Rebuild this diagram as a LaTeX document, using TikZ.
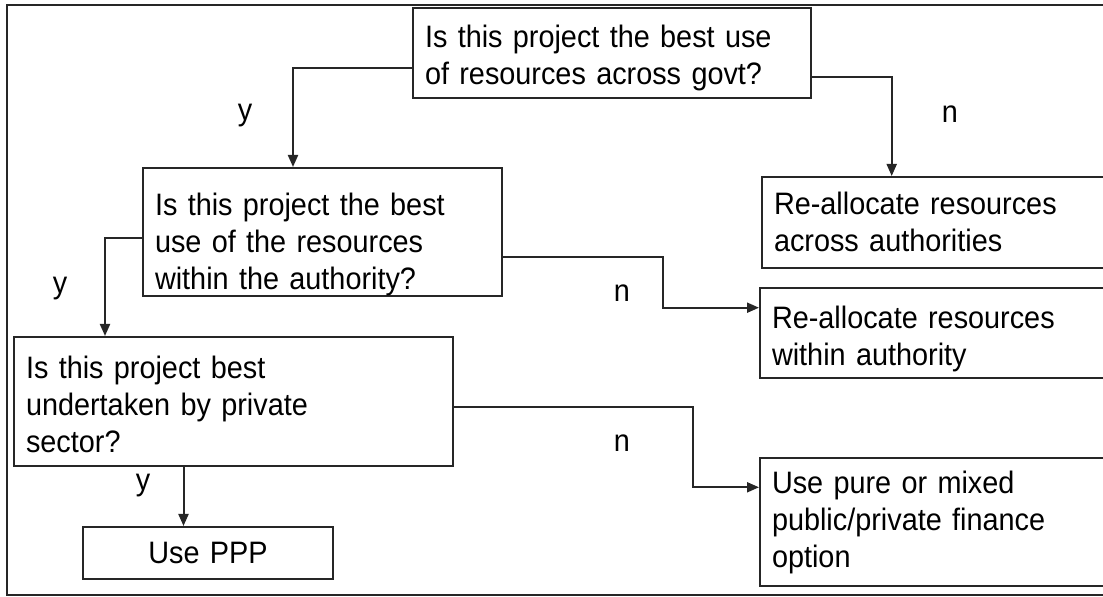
\documentclass[tikz,border=0pt]{standalone}
\usepackage{fontspec}
\setmainfont[FakeStretch=0.93, WordSpace=0.8]{Liberation Sans}
\usetikzlibrary{arrows.meta}

\begin{document}
\begin{tikzpicture}[
    x=0.5pt, y=-0.5pt,
    font={\fontsize{15.5pt}{18.5pt}\selectfont},
    box/.style={rectangle, draw=black!85, line width=1pt, align=left, inner xsep=6pt, inner ysep=0pt},
    answer/.style={anchor=base, inner sep=0pt},
    arrow/.style={-{Triangle[length=6pt, width=5pt]}, line width=1pt, draw=black!85}
]

% Frame
\useasboundingbox (0,0) rectangle (1103,597);
\clip (0,0) rectangle (1103,597);
\draw[line width=1pt, draw=black!85] (7,5) rectangle (1130,595);

% Questions
\node[box, text width=187pt, minimum height=45pt, text height=15.8pt] (govt) at (612,53) {Is this project the best use\\of resources across govt?};
\node[box, text width=167.5pt, minimum height=64pt, text height=23.3pt] (authority) at (322.5,232) {Is this project the best\\use of the resources\\within the authority?};
\node[box, text width=207.5pt, minimum height=64.5pt, text height=13.8pt] (private) at (233.5,401.5) {Is this project best\\undertaken by private\\sector?};

% Outcomes
\node[box, text width=164.5pt, minimum height=45.5pt, text height=11pt] (across) at (938.5,222.5) {Re-allocate resources\\across authorities};
\node[box, text width=165.5pt, minimum height=45pt, text height=17.3pt] (within) at (937.5,333) {Re-allocate resources\\within authority};
\node[box, text width=165.5pt, minimum height=64pt, text height=11.3pt] (finance) at (937.5,522) {Use pure or mixed\\public/private finance\\option};
\node[box, text width=113pt, minimum height=26pt, align=center] (ppp) at (208,553) {Use PPP};

% Arrows
\draw[arrow] ([yshift=-7.5pt]govt.west) -| ([xshift=-14.75pt]authority.north);
\draw[arrow] ([yshift=-12pt]govt.east) -| ([xshift=-23.4pt]across.north);
\draw[arrow] ([yshift=-3pt]authority.west) -| ([xshift=-64.25pt]private.north);
\draw[arrow] ([yshift=-12.65pt]authority.east) -- ++(80pt,0) |- ([yshift=12.65pt]within.west);
\draw[arrow] ([yshift=-2.9pt]private.east) -- ++(119.35pt,0) |- ([yshift=17.35pt]finance.west);
\draw[arrow] ([xshift=-25pt]private.south) -- ([xshift=-25pt]private.south |- ppp.north);

% Answers
\node[answer] (y1) at (245,121) {y};
\node[answer] (n1) at (950,122.5) {n};
\node[answer] (y2) at (60,294) {y};
\node[answer] (n2) at (622,301.5) {n};
\node[answer] (y3) at (143,491) {y};
\node[answer] (n3) at (622,451.5) {n};

\end{tikzpicture}
\end{document}
